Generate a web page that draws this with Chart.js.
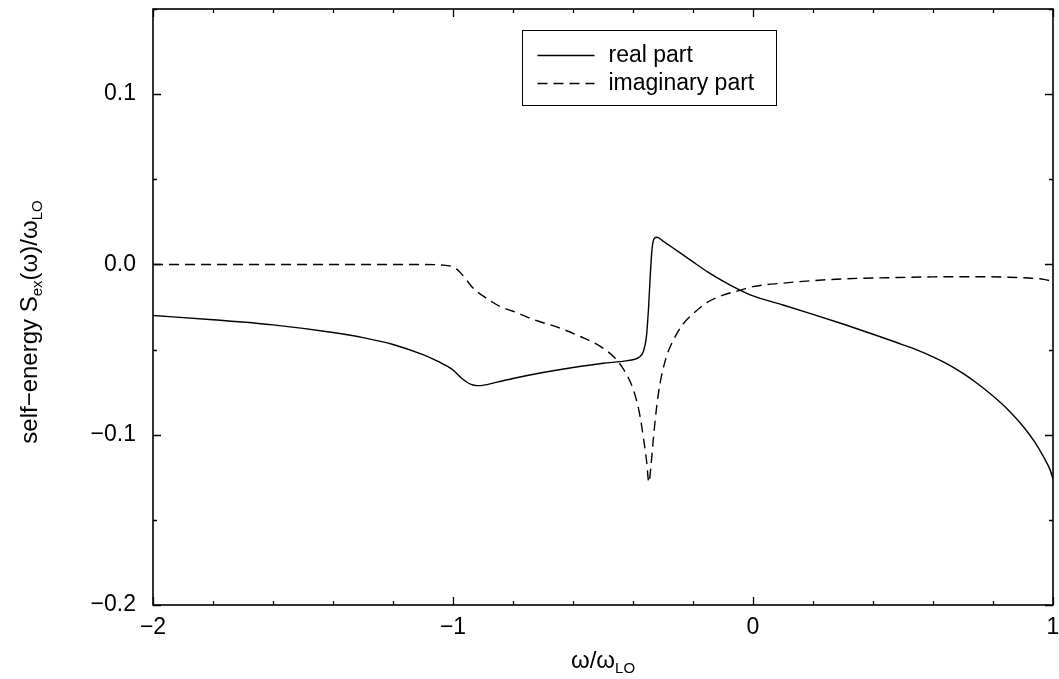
<!DOCTYPE html>
<html lang="en">
<head>
    <meta charset="UTF-8">
    <title>Self-energy S_ex(omega)</title>
    <script src="https://cdn.jsdelivr.net/npm/chart.js"></script>
    <style>
        html, body { margin: 0; padding: 0; background: #fff; }
    </style>
</head>
<body>
    <canvas id="selfEnergyChart" width="1059" height="679"></canvas>

    <script>
        // omega / omega_LO and the two parts of the self-energy
        const realX = [-2.0, -1.8, -1.6, -1.4, -1.3, -1.2, -1.1, -1.05, -1.0, -0.97, -0.94, -0.92, -0.90, -0.85,
            -0.8, -0.7, -0.6, -0.5, -0.42, -0.38, -0.365, -0.355, -0.348, -0.342, -0.336, -0.328, -0.32, -0.3,
            -0.28, -0.25, -0.2, -0.15, -0.1, -0.05, 0.0, 0.1, 0.2, 0.3, 0.4, 0.5, 0.55, 0.6, 0.65, 0.7, 0.75,
            0.8, 0.85, 0.9, 0.94, 0.97, 0.99, 1.0];
        const realY = [-0.030, -0.0325, -0.0355, -0.040, -0.043, -0.047, -0.053, -0.057, -0.062, -0.067, -0.0705,
            -0.0712, -0.071, -0.069, -0.067, -0.0635, -0.0605, -0.058, -0.0565, -0.0545, -0.051, -0.042, -0.025,
            -0.005, 0.010, 0.0155, 0.016, 0.0137, 0.0113, 0.0077, 0.0015, -0.0045, -0.0098, -0.0145, -0.0185,
            -0.0238, -0.0293, -0.035, -0.041, -0.0472, -0.0505, -0.0543, -0.0587, -0.064, -0.0702, -0.0773,
            -0.0853, -0.095, -0.1045, -0.1135, -0.1205, -0.126];

        const imagX = [-2.0, -1.5, -1.1, -1.04, -1.0, -0.98, -0.96, -0.94, -0.92, -0.9, -0.87, -0.84, -0.8, -0.73,
            -0.65, -0.58, -0.51, -0.46, -0.43, -0.4, -0.38, -0.365, -0.355, -0.347, -0.34, -0.333, -0.322, -0.31,
            -0.29, -0.267, -0.233, -0.2, -0.15, -0.1, -0.05, 0.0, 0.1, 0.2, 0.3, 0.45, 0.6, 0.75, 0.85, 0.92,
            0.97, 1.0];
        const imagY = [0.0, 0.0, 0.0, -0.0003, -0.0015, -0.004, -0.008, -0.0125, -0.016, -0.0185, -0.022, -0.025,
            -0.0275, -0.0325, -0.037, -0.042, -0.048, -0.055, -0.062, -0.073, -0.086, -0.102, -0.115, -0.128, -0.118,
            -0.104, -0.085, -0.070, -0.055, -0.045, -0.035, -0.029, -0.022, -0.018, -0.0155, -0.013, -0.011,
            -0.0095, -0.0085, -0.0078, -0.0073, -0.0072, -0.0075, -0.008, -0.0088, -0.010];

        const seriesNames = ['real part', 'imaginary part'];
        const xLabelled = [-2, -1, 0, 1];
        const yLabelled = [-0.2, -0.1, 0.0, 0.1];

        const FONT = "'Liberation Sans', Arial, Helvetica, sans-serif";

        function toPoints(xs, ys) {
            return xs.map((x, i) => ({ x: x, y: ys[i] }));
        }

        function isLabelled(v, list) {
            return list.some(l => Math.abs(l - v) < 1e-6);
        }

        function withMinus(s) {
            return s.replace('-', '\u2212');
        }

        // text with subscripts: parts = [[text, isSub], ...], centred on cx
        function drawRich(ctx, parts, cx, y) {
            const big = '24px ' + FONT, small = '15px ' + FONT;
            let w = 0;
            parts.forEach(p => { ctx.font = p[1] ? small : big; w += ctx.measureText(p[0]).width; });
            let x = cx - w / 2;
            ctx.textAlign = 'left';
            ctx.textBaseline = 'alphabetic';
            parts.forEach(p => {
                ctx.font = p[1] ? small : big;
                ctx.fillText(p[0], x, y + (p[1] ? 5 : 0));
                x += ctx.measureText(p[0]).width;
            });
        }

        // frame and inward ticks on all four sides
        const framePlugin = {
            id: 'frame',
            afterDatasetsDraw(chart) {
                const ctx = chart.ctx, a = chart.chartArea;
                const xs = chart.scales.x, ys = chart.scales.y;
                ctx.save();
                ctx.strokeStyle = '#000';
                ctx.lineWidth = 1.3;
                ctx.beginPath();
                xs.ticks.forEach(t => {
                    const px = Math.round(xs.getPixelForValue(t.value)) + 0.5;
                    const len = isLabelled(t.value, xLabelled) ? 8 : 4;
                    ctx.moveTo(px, a.bottom); ctx.lineTo(px, a.bottom - len);
                    ctx.moveTo(px, a.top); ctx.lineTo(px, a.top + len);
                });
                ys.ticks.forEach(t => {
                    const py = Math.round(ys.getPixelForValue(t.value)) + 0.5;
                    const len = isLabelled(t.value, yLabelled) ? 8 : 4;
                    ctx.moveTo(a.left, py); ctx.lineTo(a.left + len, py);
                    ctx.moveTo(a.right, py); ctx.lineTo(a.right - len, py);
                });
                ctx.stroke();
                ctx.lineWidth = 1.6;
                ctx.strokeRect(a.left, a.top, a.right - a.left, a.bottom - a.top);
                ctx.restore();
            }
        };

        // boxed legend inside the plot, plus axis titles with subscripts
        const annotPlugin = {
            id: 'annot',
            afterDraw(chart) {
                const ctx = chart.ctx, a = chart.chartArea;
                ctx.save();
                ctx.fillStyle = '#000';
                ctx.strokeStyle = '#000';

                const bx = 522.5, by = 30.5, bw = 254, bh = 75;
                ctx.lineWidth = 1;
                ctx.strokeRect(bx, by, bw, bh);
                chart.data.datasets.forEach((ds, i) => {
                    const y = by + 25 + i * 28;
                    ctx.lineWidth = ds.borderWidth;
                    ctx.setLineDash(ds.borderDash || []);
                    ctx.beginPath();
                    ctx.moveTo(bx + 15, y);
                    ctx.lineTo(bx + 72, y);
                    ctx.stroke();
                    ctx.setLineDash([]);
                    ctx.font = '23px ' + FONT;
                    ctx.textAlign = 'left';
                    ctx.textBaseline = 'middle';
                    ctx.fillText(ds.label, bx + 86, y);
                });

                drawRich(ctx, [['\u03c9/\u03c9', false], ['LO', true]], (a.left + a.right) / 2, 668);

                ctx.translate(37, 322);
                ctx.rotate(-Math.PI / 2);
                drawRich(ctx, [['self\u2212energy S', false], ['ex', true], ['(\u03c9)/\u03c9', false], ['LO', true]], 0, 0);
                ctx.restore();
            }
        };

        const ctx = document.getElementById('selfEnergyChart').getContext('2d');
        new Chart(ctx, {
            type: 'scatter',
            data: {
                datasets: [{
                    label: seriesNames[0],
                    data: toPoints(realX, realY),
                    showLine: true,
                    borderColor: '#000',
                    borderWidth: 1.4,
                    pointRadius: 0,
                    cubicInterpolationMode: 'monotone',
                    fill: false
                }, {
                    label: seriesNames[1],
                    data: toPoints(imagX, imagY),
                    showLine: true,
                    borderColor: '#000',
                    borderWidth: 1.4,
                    borderDash: [10, 6],
                    pointRadius: 0,
                    cubicInterpolationMode: 'monotone',
                    fill: false
                }]
            },
            options: {
                responsive: false,
                animation: false,
                devicePixelRatio: 1,
                layout: { padding: { top: 9, right: 6, left: 0, bottom: 0 } },
                plugins: {
                    legend: { display: false },
                    tooltip: { enabled: false }
                },
                scales: {
                    x: {
                        type: 'linear',
                        min: -2,
                        max: 1,
                        grid: { display: false, tickLength: 0 },
                        border: { display: false },
                        ticks: {
                            stepSize: 0.2,
                            autoSkip: false,
                            maxRotation: 0,
                            padding: 9,
                            color: '#000',
                            font: { size: 23, family: FONT },
                            callback: v => isLabelled(v, xLabelled) ? withMinus(String(Math.round(v))) : ''
                        },
                        afterFit(s) { s.height = 74; s.paddingLeft = 0; s.paddingRight = 0; }
                    },
                    y: {
                        type: 'linear',
                        min: -0.2,
                        max: 0.15,
                        grid: { display: false, tickLength: 0 },
                        border: { display: false },
                        ticks: {
                            stepSize: 0.05,
                            autoSkip: false,
                            padding: 17,
                            color: '#000',
                            font: { size: 23, family: FONT },
                            callback: v => {
                                if (!isLabelled(v, yLabelled)) return '';
                                return Math.abs(v) < 1e-9 ? '0.0' : withMinus(v.toFixed(1));
                            }
                        },
                        afterFit(s) { s.width = 153; s.paddingTop = 0; s.paddingBottom = 0; }
                    }
                }
            },
            plugins: [framePlugin, annotPlugin]
        });
    </script>
</body>
</html>
